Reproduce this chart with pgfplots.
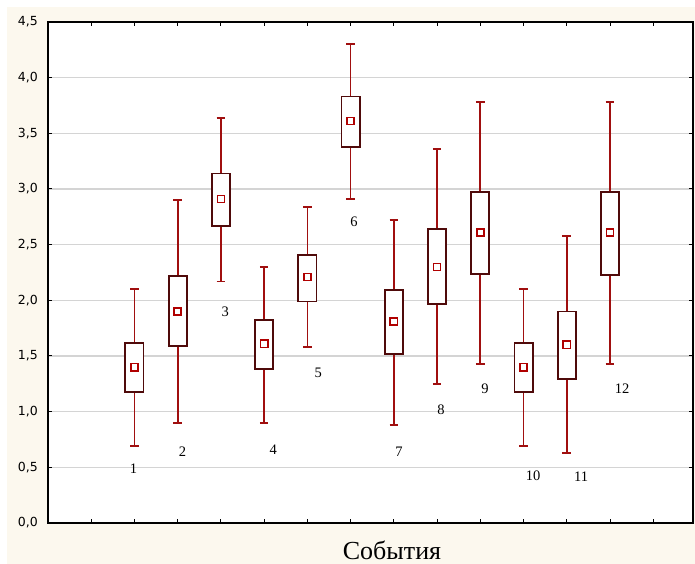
\documentclass[border=0pt]{standalone}
\usepackage{fontspec}
\setmainfont{Liberation Serif}
\newfontfamily\ticksf{DejaVu Sans}
\usepackage{pgfplots}
\pgfplotsset{compat=1.18}
\usepgfplotslibrary{statistics}
\definecolor{cream}{HTML}{FCF8EE}
\definecolor{whisk}{HTML}{A00F0F}
\definecolor{boxc}{HTML}{4F0A0A}
\definecolor{meanc}{HTML}{B00000}
\definecolor{gridc}{HTML}{D4D4D4}
\begin{document}
\begin{tikzpicture}
\useasboundingbox (-48pt,-41pt) rectangle (647pt,523pt);
\fill[cream] (-41pt,-41pt) rectangle (647pt,516pt);
\begin{axis}[
  at={(0pt,0pt)}, anchor=south west,
  scale only axis, width=645pt, height=501pt,
  xmin=-1, xmax=13.92, ymin=0, ymax=4.5,
  axis background/.style={fill=white},
  axis line style={line width=1.4pt, black},
  xtick={0,...,13}, xticklabels={},
  ytick={0,0.5,1,1.5,2,2.5,3,3.5,4,4.5},
  ymajorgrids, grid style={gridc, line width=1.2pt},
  tick align=inside, tick pos=both,
  major tick length=4pt,
  tick style={black, line width=1pt},
  yticklabel style={font=\ticksf\fontsize{12.5}{13}\selectfont, inner sep=0pt, xshift=-10pt},
  /pgf/number format/.cd, fixed, fixed zerofill, precision=1, use comma, assume math mode=true,
  /pgfplots/.cd,
  xlabel={События},
  xlabel style={at={(axis description cs:0.5333,0)}, anchor=base, yshift=-36pt, font=\fontsize{26}{28}\selectfont, inner sep=0pt},
  boxplot/draw direction=y,
  boxplot/box extend=0.42,
  boxplot/whisker extend=0.2,
  boxplot/every box/.style={draw=boxc, line width=1.8pt, fill=white},
  boxplot/every whisker/.style={draw=whisk, line width=1.7pt},
  boxplot/draw/median/.code={},
]
\addplot[draw=boxc, boxplot prepared={draw position=1, lower whisker=0.69, lower quartile=1.18, median=1.40, upper quartile=1.62, upper whisker=2.10}] coordinates {};
\addplot[draw=boxc, boxplot prepared={draw position=2, lower whisker=0.90, lower quartile=1.59, median=1.90, upper quartile=2.22, upper whisker=2.90}] coordinates {};
\addplot[draw=boxc, boxplot prepared={draw position=3, lower whisker=2.17, lower quartile=2.67, median=2.91, upper quartile=3.14, upper whisker=3.64}] coordinates {};
\addplot[draw=boxc, boxplot prepared={draw position=4, lower whisker=0.90, lower quartile=1.38, median=1.61, upper quartile=1.82, upper whisker=2.30}] coordinates {};
\addplot[draw=boxc, boxplot prepared={draw position=5, lower whisker=1.58, lower quartile=1.99, median=2.21, upper quartile=2.41, upper whisker=2.84}] coordinates {};
\addplot[draw=boxc, boxplot prepared={draw position=6, lower whisker=2.91, lower quartile=3.38, median=3.61, upper quartile=3.83, upper whisker=4.30}] coordinates {};
\addplot[draw=boxc, boxplot prepared={draw position=7, lower whisker=0.88, lower quartile=1.52, median=1.81, upper quartile=2.09, upper whisker=2.72}] coordinates {};
\addplot[draw=boxc, boxplot prepared={draw position=8, lower whisker=1.25, lower quartile=1.97, median=2.30, upper quartile=2.64, upper whisker=3.36}] coordinates {};
\addplot[draw=boxc, boxplot prepared={draw position=9, lower whisker=1.43, lower quartile=2.24, median=2.61, upper quartile=2.97, upper whisker=3.78}] coordinates {};
\addplot[draw=boxc, boxplot prepared={draw position=10, lower whisker=0.69, lower quartile=1.18, median=1.40, upper quartile=1.62, upper whisker=2.10}] coordinates {};
\addplot[draw=boxc, boxplot prepared={draw position=11, lower whisker=0.63, lower quartile=1.29, median=1.60, upper quartile=1.90, upper whisker=2.58}] coordinates {};
\addplot[draw=boxc, boxplot prepared={draw position=12, lower whisker=1.43, lower quartile=2.23, median=2.61, upper quartile=2.97, upper whisker=3.78}] coordinates {};
\addplot[only marks, mark=square, mark size=3.6pt, mark options={draw=meanc, fill=white, line width=1.6pt, solid}] coordinates {
(1,1.40) (2,1.90) (3,2.91) (4,1.61) (5,2.21) (6,3.61) (7,1.81) (8,2.30) (9,2.61) (10,1.40) (11,1.60) (12,2.61)};
\addplot[draw=none, mark=none, nodes near coords, point meta=explicit symbolic,
  every node near coord/.append style={font=\fontsize{14.5}{15}\selectfont, anchor=center, inner sep=0pt, text=black}]
  table[meta=lab] {
x y lab
0.98 0.49 1
2.11 0.64 2
3.10 1.90 3
4.21 0.66 4
5.25 1.35 5
6.08 2.71 6
7.12 0.64 7
8.09 1.02 8
9.11 1.21 9
10.22 0.42 10
11.33 0.42 11
12.28 1.21 12
};
\end{axis}
\end{tikzpicture}
\end{document}
